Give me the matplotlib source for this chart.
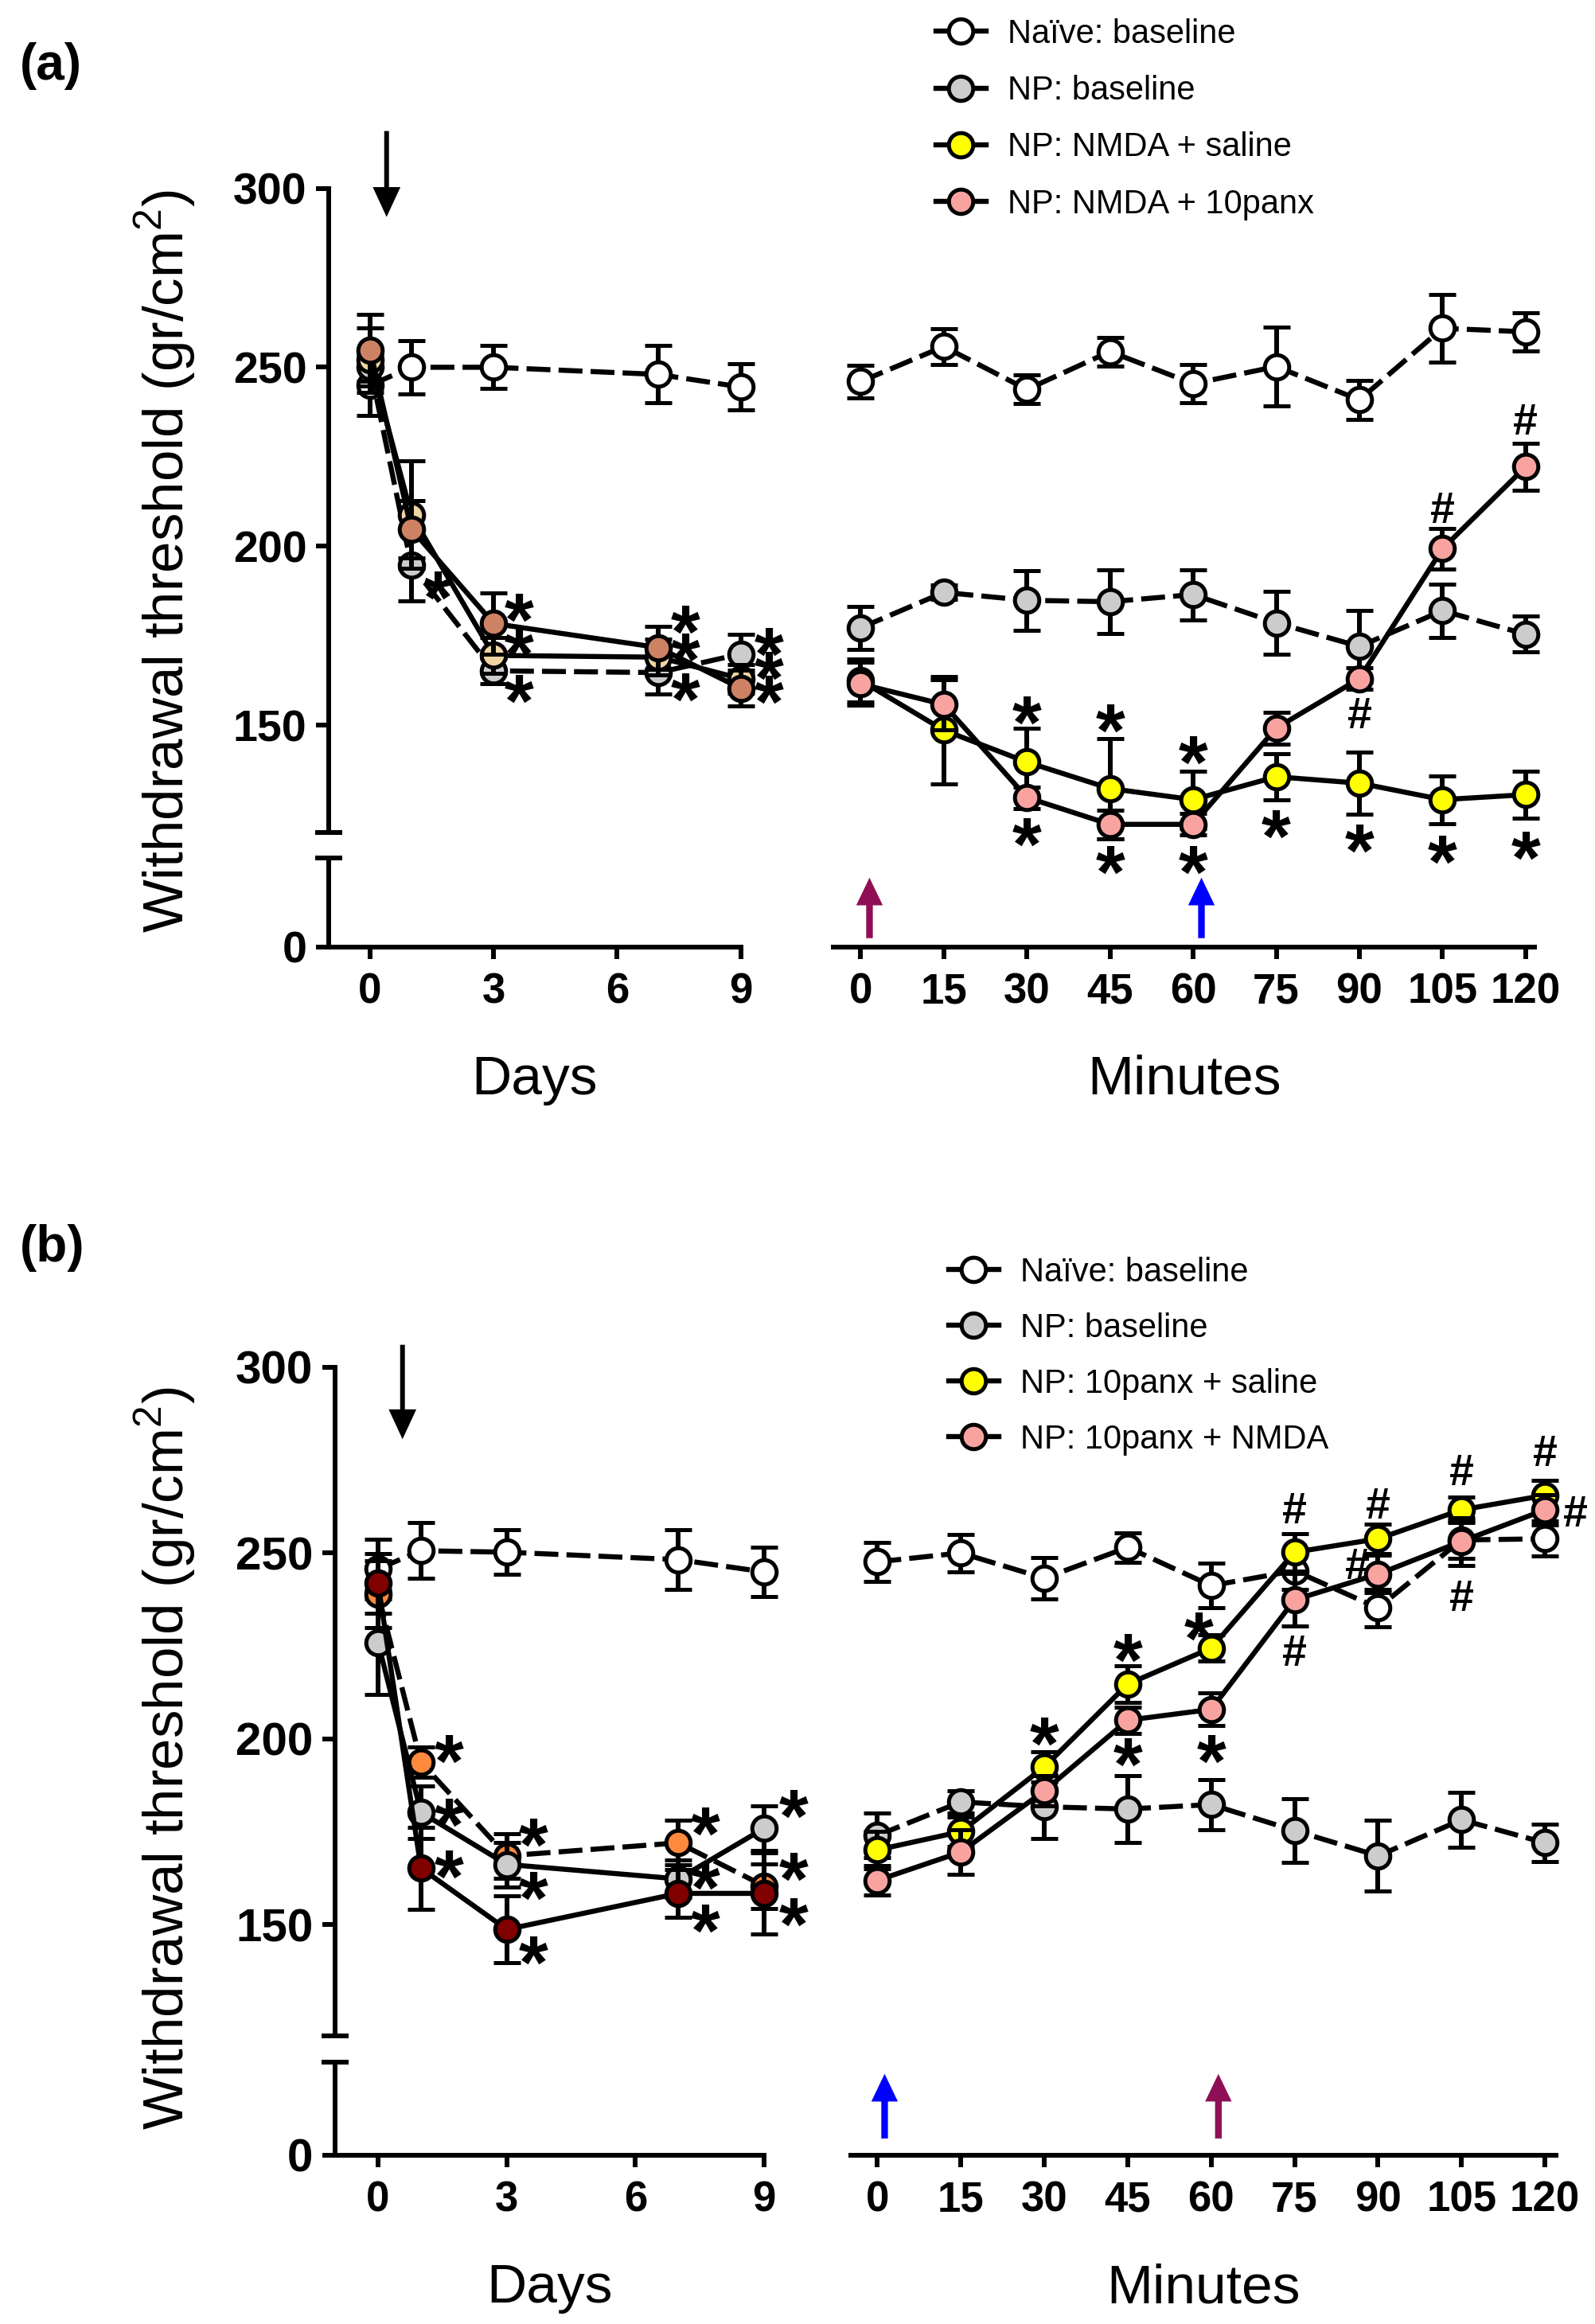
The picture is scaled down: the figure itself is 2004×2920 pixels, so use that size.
import numpy as np
import matplotlib
matplotlib.use('Agg')
import matplotlib.pyplot as plt
from matplotlib.lines import Line2D
from matplotlib.textpath import TextPath
from matplotlib.font_manager import FontProperties

plt.rcParams['font.family'] = ['Liberation Sans', 'DejaVu Sans']
plt.rcParams['mathtext.fontset'] = 'custom'
plt.rcParams['mathtext.rm'] = 'Liberation Sans'

# ---------------- data ----------------
days = [0, 1, 3, 7, 9]
minutes = [0, 15, 30, 45, 60, 75, 90, 105, 120]
day_ticks = [0, 3, 6, 9]
y_ticks = [0, 150, 200, 250, 300]

# panel (a) – days
a_naive_days = [245, 250, 250, 248, 244.5]
a_naive_days_err = [8.5, 7.5, 6, 8, 6.5]
a_np_days = [250, 194.7, 165.2, 164.7, 169.9]
a_np_days_err = [4, 10, 3.5, 6, 5.5]
a_sal_days = [252, 208.8, 169.5, 169, 163]
a_sal_days_err = [9, 15, 5, 5, 4]
a_panx_days = [254.8, 204.8, 178.4, 171.7, 160.3]
a_panx_days_err = [10, 8, 8.6, 6, 5]

# panel (a) – minutes
a_naive_min = [246, 255.8, 243.8, 254.4, 245.4, 250.2, 240.9, 260.9, 259.9]
a_naive_min_err = [4.5, 5, 4, 4, 5.3, 11, 5.5, 9.5, 5.3]
a_np_min = [177.2, 187.1, 184.9, 184.5, 186.5, 178.6, 172, 182, 175.4]
a_np_min_err = [6, 2, 8.3, 9, 7, 8.7, 10, 7.5, 5]
a_sal_min = [162.5, 148.6, 139.7, 132.3, 129.2, 135.6, 133.8, 129.2, 130.6]
a_sal_min_err = [6, 15, 9.5, 14, 8, 6.5, 8.7, 6.7, 6.5]
a_panx_min = [161.5, 155.8, 129.8, 122.3, 122.3, 149.2, 163, 199.3, 222.2]
a_panx_min_err = [6, 7, 3, 4, 3, 4.4, 3, 5.7, 6.5]

# panel (b) – days
b_naive_days = [245.7, 250.6, 250.2, 248.2, 244.9]
b_naive_days_err = [8, 7.5, 6, 8, 6.6]
b_np_days = [225.9, 180.2, 166.2, 162.3, 175.9]
b_np_days_err = [14, 7, 6, 5, 6]
b_sal_days = [238.9, 193.7, 168.5, 172, 160.4]
b_sal_days_err = [9, 4, 6, 6, 6]
b_nmda_days = [241.8, 165.2, 148.7, 158.4, 158.4]
b_nmda_days_err = [8, 11, 9, 6.5, 11]

# panel (b) – minutes
b_naive_min = [247.6, 250, 243.2, 251.5, 241.2, 245.2, 235.2, 253.5, 253.8]
b_naive_min_err = [5.2, 5, 5.5, 4, 6, 5, 5, 5, 4.7]
b_np_min = [174, 183, 181.7, 181.1, 182.3, 175.3, 168.5, 178.2, 172]
b_np_min_err = [6, 3, 8.5, 9, 6.8, 8.5, 9.5, 7.3, 5]
b_sal_min = [170.1, 175, 192.4, 214.7, 224.4, 250.2, 253.8, 261.6, 265.5]
b_sal_min_err = [5, 4, 4, 5, 3.5, 5, 4, 3.5, 4]
b_nmda_min = [161.9, 169.5, 186, 205, 207.9, 237.4, 244.3, 253.1, 261.6]
b_nmda_min_err = [4, 6, 4, 3.5, 4.4, 7, 5, 6.4, 4]

a_labels = ['Naïve: baseline', 'NP: baseline', 'NP: NMDA + saline', 'NP: NMDA + 10panx']
b_labels = ['Naïve: baseline', 'NP: baseline', 'NP: 10panx + saline', 'NP: 10panx + NMDA']

# significance marks: (group, index, symbol, dx pt, dy pt) relative to the point
a_days_marks = [('sal4', 2, '*', 22.6, 14.6), ('sal3', 2, '*', 22.6, 12), ('np', 2, '*', 22.6, -15.9),
                ('sal4', 3, '*', 24.5, 25.6), ('sal3', 3, '*', 24.5, 9), ('np', 3, '*', 24.5, -13),
                ('np', 4, '*', 25.4, 10.7), ('sal3', 4, '*', 25.4, 11.7), ('sal4', 4, '*', 25.4, -1.3),
                ('np', 1, '*', 24, -17.8)]
a_min_marks = [('sal3', 2, '*', 0, 47), ('sal3', 3, '*', 0, 64), ('sal3', 4, '*', 0, 45),
               ('sal4', 2, '*', 0, -31), ('sal4', 3, '*', 0, -32), ('sal4', 4, '*', 0, -32),
               ('sal3', 5, '*', 0, -43), ('sal3', 6, '*', 0, -50), ('sal3', 7, '*', 0, -45),
               ('sal3', 8, '*', 0, -46),
               ('sal4', 6, '#', 0, -31), ('sal4', 7, '#', 0, 37), ('sal4', 8, '#', 0, 43)]
b_days_marks = [('sal3', 1, '*', 25.6, 11.8), ('np', 1, '*', 25.6, 0), ('sal4', 1, '*', 25.6, 3.4),
                ('sal3', 2, '*', 23.8, 21.5), ('np', 2, '*', 23.8, -19.5), ('sal4', 2, '*', 23.8, -19),
                ('sal3', 3, '*', 24.6, 19.5), ('np', 3, '*', 24.6, 3.4), ('sal4', 3, '*', 24.6, -22.5),
                ('np', 4, '*', 26.3, 22.5), ('sal3', 4, '*', 26.3, 17.5), ('sal4', 4, '*', 26.3, -16.5)]
b_min_marks = [('sal3', 2, '*', 0, 32.6), ('sal3', 3, '*', 0, 32.6), ('sal3', 4, '*', -11, 19.5),
               ('sal4', 3, '*', 0, -29), ('sal4', 4, '*', 0, -36),
               ('sal3', 5, '#', 0, 40), ('sal3', 6, '#', 0, 32), ('sal3', 7, '#', 0, 36),
               ('sal3', 8, '#', 0, 40),
               ('sal4', 5, '#', 0, -46), ('sal4', 7, '#', 0, -49), ('sal4', 6, '#', -19, 9),
               ('sal4', 8, '#', 27.6, -1.3)]

# ---------------- style ----------------
WHITE, GRAY, YELLOW, PINK = '#FFFFFF', '#CCCCCC', '#FFFF00', '#F9A3A0'
TAN, TERRA = '#EFD5A3', '#CD8264'
ORANGE, DARKRED = '#FF8A3D', '#800000'
MAGENTA, BLUE = '#8E0F55', '#0000FF'
DASH = (0, (4.7, 1.6))
LW, SPINE_LW = 4.6, 4.3
MS, MEW = 22, 3.6
STAR_FS, HASH_FS = 68, 40


def fwd(v):
    v = np.asarray(v, dtype=float)
    return np.where(v >= 113, v - 88, v * 25 / 113)


def inv(u):
    u = np.asarray(u, dtype=float)
    return np.where(u >= 25, u + 88, u * 113 / 25)


def glyph_center(sym, fs):
    tp = TextPath((0, 0), sym, prop=FontProperties(family='Liberation Sans', weight='bold', size=fs))
    bb = tp.get_extents()
    return (bb.y0 + bb.y1) / 2


def group(ax, x, y, e, face, ls, z):
    eb = ax.errorbar(x, y, yerr=e, fmt='o', ls=ls, color='k', lw=LW, ms=MS, mfc=face,
                     mec='k', mew=MEW, elinewidth=4.3, capsize=12.5, capthick=4, zorder=z)
    for art in [eb.lines[0], *eb.lines[1], *eb.lines[2]]:
        art.set_clip_on(False)


def marks(ax, x, series, lst):
    for key, i, sym, dx, dy in lst:
        fs = STAR_FS if sym == '*' else HASH_FS
        cy = glyph_center(sym, fs)
        ax.annotate(sym, xy=(x[i], series[key][i]), xytext=(dx, dy - cy), textcoords='offset points',
                    ha='center', va='baseline', fontsize=fs, fontweight='bold', zorder=8,
                    annotation_clip=False)


def base_axes(fig, rect, xlim):
    ax = fig.add_axes(rect)
    ax.set_yscale('function', functions=(fwd, inv))
    ax.set_ylim(0, 300)
    ax.set_xlim(*xlim)
    for s in ['top', 'right']:
        ax.spines[s].set_visible(False)
    for s in ['left', 'bottom']:
        ax.spines[s].set_linewidth(SPINE_LW)
    ax.tick_params(axis='x', width=SPINE_LW, length=11, pad=12)
    ax.tick_params(axis='y', width=SPINE_LW, length=11.5, pad=8.5)
    return ax


def days_axes(fig, rect, data, colors, styles, mlist, ylab_fs, arrow):
    ax = base_axes(fig, rect, (-1, 9))
    ax.spines['left'].set_bounds(120, 300)
    yt = ax.get_yaxis_transform()
    ax.plot([0, 0], [0, 113], transform=yt, color='k', lw=SPINE_LW, clip_on=False,
            solid_capstyle='butt')
    ax.plot([0, 0], [113, 120], transform=yt, ls='none', marker='_', ms=24, mew=SPINE_LW,
            color='k', clip_on=False)
    ax.set_xticks(day_ticks, labels=[str(t) for t in day_ticks], fontsize=38, fontweight='bold')
    ax.set_yticks(y_ticks, labels=[str(t) for t in y_ticks], fontsize=ylab_fs, fontweight='bold')
    series = {}
    for z, (key, (vals, err)) in enumerate(data.items()):
        group(ax, days, vals, err, colors[key], styles[key], 3 + z)
        series[key] = vals
    marks(ax, days, series, mlist)
    ax.annotate('', xy=(arrow[0], arrow[2]), xytext=(arrow[0], arrow[1]),
                arrowprops=dict(facecolor='k', edgecolor='none', width=4.3, headwidth=25,
                                headlength=27, shrink=0))
    ax.set_ylabel(r'Withdrawal threshold (gr/cm$^{\mathregular{2}}$)', fontsize=51, va='center')
    ax.set_xlabel('Days', fontsize=50, va='center')
    return ax


def min_axes(fig, rect, xlim, data, colors, mlist, arrows):
    ax = base_axes(fig, rect, xlim)
    ax.spines['left'].set_visible(False)
    ax.set_yticks([])
    ax.set_xticks(minutes, labels=[str(t) for t in minutes], fontsize=38, fontweight='bold')
    series = {}
    styles = {'naive': DASH, 'np': DASH, 'sal3': '-', 'sal4': '-'}
    for z, (key, (vals, err)) in enumerate(data.items()):
        group(ax, minutes, vals, err, colors[key], styles[key], 3 + z)
        series[key] = vals
    marks(ax, minutes, series, mlist)
    for xm, y0, y1, col in arrows:
        ax.annotate('', xy=(xm, y1), xycoords=('data', 'axes fraction'),
                    xytext=(xm, y0), textcoords=('data', 'axes fraction'),
                    arrowprops=dict(facecolor=col, edgecolor='none', width=6, headwidth=24,
                                    headlength=25, shrink=0))
    ax.set_xlabel('Minutes', fontsize=50, va='center')
    return ax


def legend(fig, labels, colors, anchor, spacing):
    handles = [Line2D([], [], color='k', lw=LW, marker='o', ms=MS, mfc=c, mec='k', mew=MEW)
               for c in colors]
    fig.legend(handles, labels, loc='upper left', bbox_to_anchor=anchor, frameon=False,
               fontsize=30, handlelength=1.5, handletextpad=0.65, labelspacing=spacing,
               borderpad=0, borderaxespad=0)


W, H = 2004, 2920
fig = plt.figure(figsize=(W / 100, H / 100), dpi=100)

# ---------------- panel (a) ----------------
a_ax1 = days_axes(fig, [413.3 / W, 1 - 1190 / H, 517.4 / W, 953.4 / H],
                  {'naive': (a_naive_days, a_naive_days_err), 'np': (a_np_days, a_np_days_err),
                   'sal3': (a_sal_days, a_sal_days_err), 'sal4': (a_panx_days, a_panx_days_err)},
                  {'naive': WHITE, 'np': GRAY, 'sal3': TAN, 'sal4': TERRA},
                  {'naive': DASH, 'np': DASH, 'sal3': '-', 'sal4': '-'},
                  a_days_marks, 40, (0.4, 316, 292))
a_ax1.yaxis.set_label_coords(-0.397, 0.509)
a_ax1.xaxis.set_label_coords(0.5, -0.175)

a_ax2 = min_axes(fig, [1047.2 / W, 1 - 1190 / H, 880.8 / W, 953.4 / H], (-4.9, 121.6),
                 {'naive': (a_naive_min, a_naive_min_err), 'np': (a_np_min, a_np_min_err),
                  'sal3': (a_sal_min, a_sal_min_err), 'sal4': (a_panx_min, a_panx_min_err)},
                 {'naive': WHITE, 'np': GRAY, 'sal3': YELLOW, 'sal4': PINK},
                 a_min_marks, [(1.6, 0.0118, 0.0915, MAGENTA), (61.5, 0.0118, 0.0915, BLUE)])
a_ax2.xaxis.set_label_coords(0.5, -0.175)
legend(fig, a_labels, [WHITE, GRAY, YELLOW, PINK], (1176 / W, 1 - 23 / H), 0.75)

# ---------------- panel (b) ----------------
b_ax1 = days_axes(fig, [421.1 / W, 1 - 2707.7 / H, 539 / W, 990 / H],
                  {'naive': (b_naive_days, b_naive_days_err), 'sal3': (b_sal_days, b_sal_days_err),
                   'np': (b_np_days, b_np_days_err), 'sal4': (b_nmda_days, b_nmda_days_err)},
                  {'naive': WHITE, 'np': GRAY, 'sal3': ORANGE, 'sal4': DARKRED},
                  {'naive': DASH, 'np': '-', 'sal3': DASH, 'sal4': '-'},
                  b_days_marks, 42, (0.57, 306, 280.6))
b_ax1.yaxis.set_label_coords(-0.395, 0.504)
b_ax1.xaxis.set_label_coords(0.5, -0.169)

b_ax2 = min_axes(fig, [1068.8 / W, 1 - 2707.7 / H, 886.3 / W, 990 / H], (-4.8, 122),
                 {'naive': (b_naive_min, b_naive_min_err), 'np': (b_np_min, b_np_min_err),
                  'sal3': (b_sal_min, b_sal_min_err), 'sal4': (b_nmda_min, b_nmda_min_err)},
                 {'naive': WHITE, 'np': GRAY, 'sal3': YELLOW, 'sal4': PINK},
                 b_min_marks, [(1.3, 0.021, 0.103, BLUE), (61.3, 0.021, 0.103, MAGENTA)])
b_ax2.xaxis.set_label_coords(0.5, -0.169)
legend(fig, b_labels, [WHITE, GRAY, YELLOW, PINK], (1192 / W, 1 - 1579 / H), 0.72)

fig.text(25 / W, 1 - 53 / H, '(a)', fontsize=46, fontweight='bold', va='top')
fig.text(25 / W, 1 - 1538 / H, '(b)', fontsize=46, fontweight='bold', va='top')

fig.savefig('out.png', dpi=100)
